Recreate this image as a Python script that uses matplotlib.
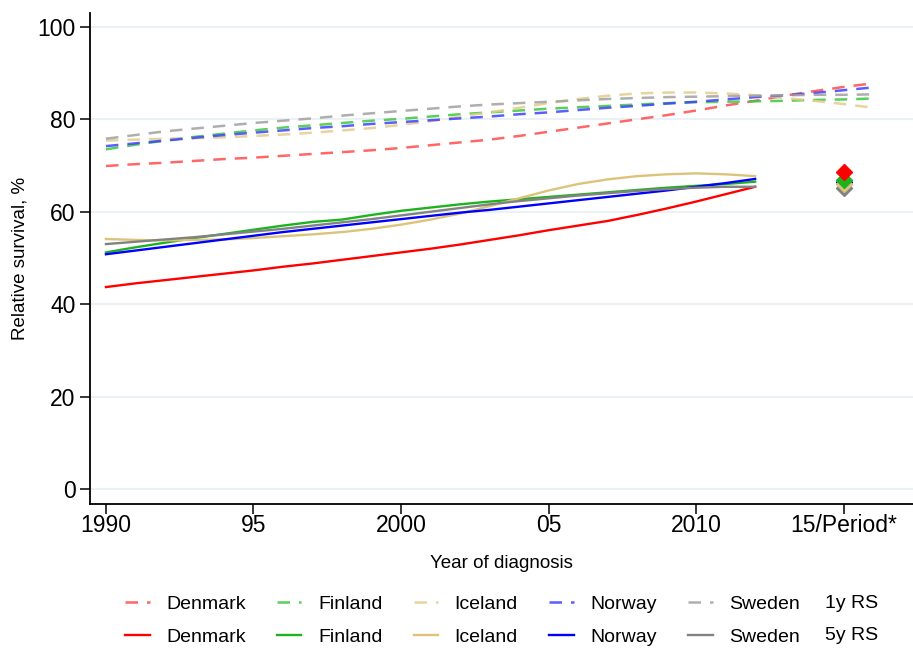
import numpy as np
import matplotlib
matplotlib.use("Agg")
import matplotlib.pyplot as plt

plt.rcParams["font.family"] = ["Liberation Sans", "DejaVu Sans"]

# _______________________________________________________________________________
# relative survival by year of diagnosis

years_1y = list(range(1990, 2017))
years_5y = list(range(1990, 2013))

rs1 = {
    "Denmark": [69.9, 70.3, 70.6, 71.0, 71.4, 71.7, 72.1, 72.5, 72.9, 73.3, 73.8,
                74.4, 75.0, 75.6, 76.4, 77.3, 78.2, 79.1, 80.0, 80.9, 81.9, 83.0,
                84.0, 85.1, 86.1, 87.0, 87.8],
    "Finland": [73.5, 74.5, 75.4, 76.2, 76.9, 77.6, 78.2, 78.7, 79.2, 79.7, 80.1,
                80.6, 81.1, 81.5, 81.9, 82.3, 82.6, 82.9, 83.2, 83.5, 83.7, 83.8,
                83.9, 84.0, 84.2, 84.3, 84.5],
    "Iceland": [75.4, 75.6, 75.8, 75.9, 76.1, 76.4, 76.7, 77.1, 77.6, 78.1, 78.8,
                79.6, 80.6, 81.5, 82.5, 83.5, 84.4, 85.1, 85.6, 85.8, 85.8, 85.6,
                85.2, 84.6, 84.0, 83.3, 82.5],
    "Norway": [74.2, 74.8, 75.4, 76.0, 76.6, 77.1, 77.6, 78.1, 78.5, 79.0, 79.4,
               79.8, 80.2, 80.6, 81.1, 81.5, 82.0, 82.5, 82.9, 83.4, 83.8, 84.3,
               84.8, 85.2, 85.7, 86.3, 86.9],
    "Sweden": [75.8, 76.6, 77.4, 78.0, 78.6, 79.2, 79.7, 80.2, 80.8, 81.3, 81.8,
               82.3, 82.8, 83.2, 83.5, 83.8, 84.1, 84.4, 84.6, 84.8, 84.9, 85.0,
               85.1, 85.2, 85.3, 85.3, 85.4],
}

rs5 = {
    "Denmark": [43.7, 44.5, 45.2, 45.9, 46.6, 47.3, 48.1, 48.8, 49.6, 50.4, 51.2,
                52.0, 52.9, 53.9, 54.9, 56.0, 57.0, 58.0, 59.3, 60.7, 62.2, 63.8,
                65.4],
    "Finland": [51.2, 52.3, 53.3, 54.3, 55.2, 56.1, 57.0, 57.8, 58.3, 59.3, 60.2,
                60.9, 61.6, 62.2, 62.7, 63.2, 63.7, 64.2, 64.7, 65.2, 65.6, 66.0,
                66.5],
    "Iceland": [54.1, 53.9, 53.8, 53.9, 54.0, 54.3, 54.7, 55.1, 55.6, 56.3, 57.2,
                58.3, 59.6, 61.2, 62.9, 64.6, 66.0, 67.0, 67.7, 68.1, 68.3, 68.1,
                67.7],
    "Norway": [50.8, 51.6, 52.4, 53.2, 54.0, 54.8, 55.6, 56.3, 57.0, 57.7, 58.4,
               59.1, 59.8, 60.4, 61.1, 61.8, 62.5, 63.2, 63.9, 64.6, 65.4, 66.2,
               67.1],
    "Sweden": [53.0, 53.5, 54.0, 54.5, 55.1, 55.7, 56.3, 57.0, 57.7, 58.4, 59.2,
               60.0, 60.8, 61.6, 62.3, 62.9, 63.5, 64.0, 64.5, 64.9, 65.2, 65.4,
               65.4],
}

# period estimate, plotted at 2015
period_x = 2015
period_rs5 = {"Denmark": 68.5, "Finland": 66.8, "Iceland": 65.9, "Norway": 66.4, "Sweden": 65.2}

countries = ["Denmark", "Finland", "Iceland", "Norway", "Sweden"]
colors = {
    "Denmark": "#ff0000",
    "Finland": "#1fb21f",
    "Iceland": "#dbc47a",
    "Norway": "#0000ff",
    "Sweden": "#828282",
}
dash_colors = {
    "Denmark": "#ff4c4c",
    "Finland": "#3cc83c",
    "Iceland": "#e2cd8c",
    "Norway": "#4040ff",
    "Sweden": "#a0a0a0",
}

xticks = [1990, 1995, 2000, 2005, 2010, 2015]
xticklabels = ["1990", "95", "2000", "05", "2010", "15/Period*"]
yticks = [0, 20, 40, 60, 80, 100]

fig = plt.figure(figsize=(9.13, 6.48), dpi=100)
ax = fig.add_axes([0.0986, 0.2222, 0.9014, 0.7577])

for y in yticks:
    ax.axhline(y, color="#e8f0f3", linewidth=1.2, zorder=0)

handles = []
for c in countries:
    h1, = ax.plot(years_1y, rs1[c], color=dash_colors[c], alpha=0.85,
                  linewidth=1.8, dashes=(5.0, 3.6), label=c)
    h5, = ax.plot(years_5y, rs5[c], color=colors[c], linewidth=1.7, label=c)
    handles += [h1, h5]

for c in countries[::-1]:
    ax.plot([period_x], [period_rs5[c]], marker="D", markersize=8.5,
            color=colors[c], linestyle="none", zorder=5)

ax.set_xlim(1989.46, 2017.35)
ax.set_ylim(-3.25, 103.0)
ax.set_xticks(xticks)
ax.set_xticklabels(xticklabels)
ax.set_yticks(yticks)
ax.tick_params(axis="both", labelsize=16.5, length=7, width=1.1, direction="out")
ax.tick_params(axis="x", pad=0)
ax.spines["top"].set_visible(False)
ax.spines["right"].set_visible(False)
ax.spines["left"].set_linewidth(1.3)
ax.spines["bottom"].set_linewidth(1.3)

ax.set_xlabel("Year of diagnosis", fontsize=13.5, labelpad=13)
ax.set_ylabel("Relative survival, %", fontsize=13.5, labelpad=6)

fig.legend(handles=handles, labels=[h.get_label() for h in handles], ncol=5,
           loc="upper left", bbox_to_anchor=(0.118, 0.1085), frameon=False,
           fontsize=14, handlelength=1.25, handletextpad=0.85,
           columnspacing=1.62, labelspacing=0.8)

fig.text(825 / 913, 1 - 603 / 648, "1y RS", fontsize=14, ha="left", va="center")
fig.text(825 / 913, 1 - 636 / 648, "5y RS", fontsize=14, ha="left", va="center")

fig.savefig("out.png", dpi=100)
